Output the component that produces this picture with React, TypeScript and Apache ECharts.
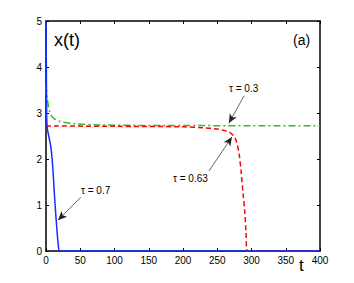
import React, { useEffect, useRef } from "react";
import * as echarts from "echarts";

const blueT = [0, 0.3, 0.6, 1, 2, 4, 6, 8, 10, 12, 14, 16, 18, 20, 400];
const blueV = [5, 4.5, 3.8, 2.9, 2.65, 2.5, 2.35, 2.15, 1.8, 1.3, 0.85, 0.45, 0.12, 0, 0];

const greenT = [0, 1, 2, 5, 10, 20, 40, 80, 150, 400];
const greenV = [3.6, 3.4, 3.3, 3.05, 2.9, 2.82, 2.77, 2.74, 2.73, 2.72];

const redT = [0, 100, 200, 230, 250, 260, 268, 274, 278, 282, 285, 288, 290, 292, 294, 400];
const redV = [2.72, 2.71, 2.7, 2.68, 2.65, 2.62, 2.58, 2.5, 2.38, 2.1, 1.7, 1.2, 0.9, 0.4, 0, 0];

const xTicks = [0, 400, 50];
const yTicks = [0, 5, 1];

const labels = ["τ = 0.7", "τ = 0.3", "τ = 0.63"];
// arrows: [fromT, fromV, toT, toV]
const arrow07 = [51, 1.17, 17.5, 0.67];
const arrow03 = [289, 3.37, 267, 2.78];
const arrow063 = [238, 1.74, 271.5, 2.48];

const zip = (t: number[], v: number[]) => t.map((x, i) => [x, v[i]]);

const arrowLine = (a: number[]) => ({
  silent: true,
  symbol: ["none", "arrow"],
  symbolSize: [6, 9],
  label: { show: false },
  lineStyle: { color: "#222", width: 0.7, type: "solid" },
  data: [[{ coord: [a[0], a[1]] }, { coord: [a[2], a[3]] }]],
});

const FONT = "Liberation Sans, Arial, sans-serif";

export default function App() {
  const ref = useRef<HTMLDivElement>(null);
  useEffect(() => {
    if (!ref.current) return;
    const chart = echarts.init(ref.current, undefined, { renderer: "svg" });
    const axisCommon = {
      type: "value" as const,
      axisLine: { show: true, onZero: false, lineStyle: { color: "#000", width: 1.5 } },
      axisTick: { show: true, inside: true, length: 3, lineStyle: { color: "#000" } },
      splitLine: { show: false },
    };
    chart.setOption({
      animation: false,
      backgroundColor: "#fff",
      textStyle: { fontFamily: FONT },
      grid: { left: 46, right: 34, top: 21, bottom: 32, containLabel: false },
      xAxis: [
        {
          ...axisCommon,
          position: "bottom",
          min: xTicks[0],
          max: xTicks[1],
          interval: xTicks[2],
          axisLabel: { color: "#000", fontSize: 10, fontFamily: FONT, margin: 4 },
        },
        {
          ...axisCommon,
          position: "top",
          min: xTicks[0],
          max: xTicks[1],
          interval: xTicks[2],
          axisLabel: { show: false },
        },
      ],
      yAxis: [
        {
          ...axisCommon,
          position: "left",
          min: yTicks[0],
          max: yTicks[1],
          interval: yTicks[2],
          axisLabel: { color: "#000", fontSize: 10, fontFamily: FONT, margin: 4 },
        },
        {
          ...axisCommon,
          position: "right",
          min: yTicks[0],
          max: yTicks[1],
          interval: yTicks[2],
          axisLabel: { show: false },
        },
      ],
      series: [
        {
          type: "line",
          data: zip(greenT, greenV),
          showSymbol: false,
          smooth: 0.3,
          lineStyle: { color: "#2fbf1f", width: 1.5, type: [7, 3, 2, 3] },
          markLine: arrowLine(arrow03),
        },
        {
          type: "line",
          data: zip(redT, redV),
          showSymbol: false,
          smooth: 0.3,
          lineStyle: { color: "#ff0000", width: 1.5, type: [5, 3] },
          markLine: arrowLine(arrow063),
        },
        {
          type: "line",
          data: zip(blueT, blueV),
          showSymbol: false,
          smooth: 0.2,
          lineStyle: { color: "#1030ff", width: 1.5 },
          markLine: arrowLine(arrow07),
        },
      ],
      graphic: [
        { type: "text", left: 54, top: 31, style: { text: "x(t)", fontSize: 18, fontFamily: FONT, fill: "#000" } },
        { type: "text", left: 293, top: 33, style: { text: "(a)", fontSize: 14, fontFamily: FONT, fill: "#000" } },
        { type: "text", left: 299, top: 257, style: { text: "t", fontSize: 17, fontFamily: FONT, fill: "#000" } },
        { type: "text", left: 81, top: 185, style: { text: labels[0], fontSize: 10, fontFamily: FONT, fill: "#000" } },
        { type: "text", left: 229, top: 83, style: { text: labels[1], fontSize: 10, fontFamily: FONT, fill: "#000" } },
        { type: "text", left: 173, top: 173, style: { text: labels[2], fontSize: 10, fontFamily: FONT, fill: "#000" } },
      ],
    });
    return () => chart.dispose();
  }, []);
  return <div ref={ref} style={{ width: 354, height: 283, position: "absolute", left: 0, top: 0 }} />;
}
